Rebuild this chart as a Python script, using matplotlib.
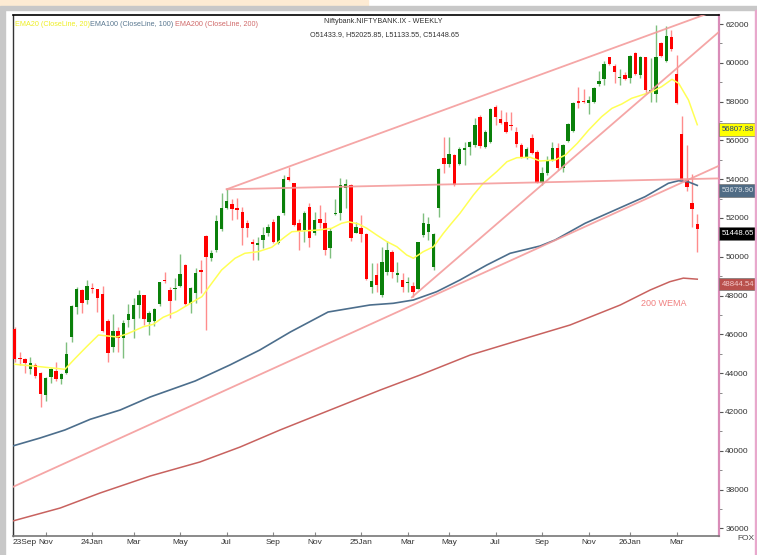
import numpy as np
import pandas as pd
import matplotlib
matplotlib.use("Agg")
import matplotlib.pyplot as plt
from matplotlib.patches import Rectangle
import matplotlib.transforms as mtransforms

plt.rcParams['font.family'] = ['Liberation Sans', 'DejaVu Sans']

# ---------------- data ----------------
start_date = "2023-09-18"
opens = [46277,44798,44731,44226,44421,43993,42875,43820,44115,43719,43993,45865,47427,48272,47772,48406,48318,48066,46689,45334,
         46169,45793,46741,46792,47499,48014,46653,46705,47566,48803,48288,48324,48494,49592,47566,48117,49309,51071,49953,50350,
         51432,52531,52721,52495,52324,51726,50777,50607,50865,51241,51778,50696,52241,54097,53788,51726,51380,52551,51241,51963,
         51757,50437,52205,52241,53530,53700,51241,51468,51174,48427,49061,48030,49231,50262,49061,48803,48633,48494,48355,51122,
         51293,49489,52495,55107,54783,55247,54783,55505,55675,55762,57221,55675,55932,57737,57103,56963,56793,56448,55762,55159,
         56108,55418,53819,54303,54989,55623,54562,55984,56500,58046,58030,57912,57994,58907,59149,60283,59835,59201,59371,59201,
         60520,59371,60283,58510,58391,61005,60108,61314,59407,56330,53958,52788,51700]
highs = [46396,45107,44783,44849,44509,44079,43820,44251,44591,43993,45622,47514,48458,48324,48803,48634,48339,48494,46777,47050,
         46396,46741,47566,47860,48288,48030,47205,47344,48716,49231,48427,48891,50144,49643,48427,49406,49834,51122,50350,52154,
         53304,53530,52963,53015,52582,51896,50900,51004,51550,51674,51932,52154,54216,54644,53819,51932,52375,52788,52324,52669,
         52324,51468,52963,54045,53994,53752,51808,52154,51210,49685,49685,50520,50829,50350,49747,49149,48974,48716,50777,52272,
         52066,51241,54562,56190,56190,55283,55675,55932,55984,57139,57309,56536,57654,57824,57567,57479,57479,56706,55881,55675,
         56314,55505,54644,55195,55932,55850,55814,56881,57994,58737,58649,58288,58768,59593,60108,60314,59938,59665,59541,60402,
         60572,60350,60314,60263,61948,61087,61897,61691,60402,57257,55747,54267,52205]
lows = [44576,44421,44009,43958,43735,42272,42581,43478,43600,43426,43942,45622,47035,47086,47566,48117,47169,46137,44591,45107,
        45107,44798,46396,45834,46865,46483,45958,46447,47463,48634,46829,47772,48427,47514,47117,47602,48117,46226,49782,50264,
        51345,52443,51896,51932,50607,51036,49834,49834,50437,51071,50696,50645,52154,53922,51602,50350,50777,50520,51122,51468,
        50092,49953,52154,51896,52499,50829,51210,50777,48803,48117,48200,47945,49061,48891,48716,48200,48200,47911,48318,51036,
        50865,49318,52035,54334,54644,53648,54731,54731,55247,55675,55592,55592,55881,56793,56845,56365,56536,55675,55077,55025,
        55283,53788,53700,54216,54953,54474,54386,55932,56448,57654,57912,57345,57912,58804,58856,59886,58974,58856,59113,58943,
        59371,59201,58391,57994,57994,60314,60025,60623,57876,53922,53406,51519,50262]
closes = [44731,44746,44509,44509,43865,42911,43768,44200,43703,43958,44988,47463,48339,47633,48494,48355,47891,46189,45024,46169,
          45793,46571,47035,47514,48014,46777,47086,47308,48684,48751,47720,48406,49097,47566,48406,49149,49206,50004,50179,51860,
          52495,52876,52448,52411,51468,51499,50658,50726,51122,51519,50747,52118,53994,53958,51638,51345,52272,50953,51896,51757,
          50350,51329,52272,53700,53752,50953,51519,51174,48839,48752,48546,49716,50350,49231,49180,48458,48685,48200,50777,51757,
          51690,51174,54510,54783,55298,53700,55541,55592,55932,56793,55711,56433,57603,57190,56881,56417,56742,55814,55159,55556,
          55335,53819,54303,54989,55623,54562,55762,56829,57912,57912,57964,58082,58716,59062,59938,59938,59510,59252,59165,60350,
          59422,60283,58598,58598,60283,60350,61381,60696,57912,53958,53582,52448,51449]

# indicator lines, read at sample weeks (week index, value)
ema20_idx = [0,4.9,9.7,11.7,13.9,16.2,19.8,21.7,24.9,26.8,28.7,31.3,32.9,34.9,36.2,38.1,40.0,42.6,44.5,47.1,49.7,52.3,53.6,
             58.7,61.3,63.2,64.5,66.5,68.1,70.0,72.0,73.9,75.8,77.1,79.0,81.0,82.9,84.2,86.1,88.7,90.6,93.2,95.2,97.1,99.7,
             101.6,104.5,106.5,108.8,111.0,113.5,115.5,117.4,119.3,121.3,123.2,125.1,127.1,128.4,130.3,132]
ema20_val = [44458,44334,44200,44767,45365,45968,45865,46020,46396,46520,46881,47169,47427,47750,47943,48634,49318,49922,50180,
             50264,50490,51036,51293,51380,51468,51726,51808,51690,51468,51122,50777,50520,50092,49922,50262,50520,51210,51638,
             52241,53184,53788,54386,54902,55108,55128,54938,54989,55247,55850,56536,57221,57654,57876,58170,58340,58510,58768,
             59149,58943,58082,56808]
ema100_idx = [-0.4,4.9,9.7,14.6,20.4,26.2,34.9,41.6,47.4,53.3,60.6,68.7,73.2,77.1,81.6,86.1,91.3,95.8,101.6,104.5,110.3,116.1,
              121.9,126.4,128.4,130.3,132]
ema100_val = [40246,40658,41071,41622,42102,42772,43597,44421,45195,46122,47153,47514,47602,47772,48200,48803,49576,50179,50556,
              50865,51726,52411,53097,53788,53922,53860,53680]
ema200_idx = [-0.4,8.8,16.5,26.2,35.8,43.6,51.3,61.0,70.7,78.4,88.1,97.7,107.4,117.1,122.9,126.7,129.3,132]
ema200_val = [36379,37049,37822,38699,39420,40194,41070,42102,43132,43905,44936,45710,46483,47514,48288,48716,48900,48845]

# trend lines: two anchor points each (week index, value)
trend_lines = [
    ((41.0, 53480), (130.6, 62206)),   # upper channel
    ((41.0, 53480), (136.2, 54040)),   # horizontal resistance
    ((-0.4, 38132), (136.2, 54693)),   # long rising support
    ((76.8, 47911), (135.5, 61433)),   # steep rising support
]

last_labels = [("56807.88", 56807.88, "#FFFF00", "#1F3F7F"),
               ("53679.90", 53679.90, "#4F6B84", "#D8E0E8"),
               ("51448.65", 51448.65, "#000000", "#FFFFFF"),
               ("48844.54", 48844.54, "#B9504C", "#F3C8C8")]

yticks = list(range(36000, 62001, 2000))

# ---------------- figure ----------------
W, H = 757, 555
fig = plt.figure(figsize=(W / 100, H / 100), dpi=100)
fig.patch.set_facecolor("white")

# outer frame decorations
fig.patches.append(Rectangle((0, 1 - 6 / H), 368 / W, 6 / H, transform=fig.transFigure, color="#FDEBD3", zorder=0))
fig.patches.append(Rectangle((0, 1 - 10 / H), 1, 4 / H, transform=fig.transFigure, color="#C8C8C8", zorder=0))
fig.patches.append(Rectangle((0, 0), 5 / W, 1 - 10 / H, transform=fig.transFigure, color="#C8C8C8", zorder=0))
fig.patches.append(Rectangle((755 / W, 0), 2 / W, 1 - 10 / H, transform=fig.transFigure, color="#E8A8CC", zorder=0))

ax_l, ax_r, ax_t, ax_b = 12.5, 719, 15, 536
ax = fig.add_axes([ax_l / W, 1 - ax_b / H, (ax_r - ax_l) / W, (ax_b - ax_t) / H])
ax.set_facecolor("white")

x = np.arange(len(opens))
o = np.array(opens, float); h = np.array(highs, float); l = np.array(lows, float); c = np.array(closes, float)
up = c >= o
body_bot = np.minimum(o, c)
body_h = np.maximum(np.abs(c - o), 60)

ax.vlines(x[up], l[up], h[up], color="#7FBF7F", lw=1.0, zorder=3)
ax.vlines(x[~up], l[~up], h[~up], color="#FF8C8C", lw=1.0, zorder=3)
ax.bar(x[up], body_h[up], bottom=body_bot[up], width=0.66, color="#0A800A", zorder=4, linewidth=0)
ax.bar(x[~up], body_h[~up], bottom=body_bot[~up], width=0.66, color="#FF0000", zorder=4, linewidth=0)

ax.plot(ema20_idx, ema20_val, color="#FFFF55", lw=1.1, zorder=5)
ax.plot(ema100_idx, ema100_val, color="#4C6E8C", lw=1.2, zorder=5)
ax.plot(ema200_idx, ema200_val, color="#C8625F", lw=1.1, zorder=5)

for (x0, y0), (x1, y1) in trend_lines:
    s = (y1 - y0) / (x1 - x0)
    xe = 140
    ax.plot([x0, xe], [y0, y0 + s * (xe - x0)], color="#F49C9C", lw=1.3, alpha=0.9, zorder=6)

ax.set_xlim(-0.43, 136.2)
ax.set_ylim(35606, 62464)

# right price axis
ax.yaxis.tick_right()
ax.set_yticks(yticks)
ax.set_yticklabels([str(v) for v in yticks])
ax.set_yticks(list(range(36000, 62001, 1000)), minor=True)
ax.tick_params(axis="y", which="major", direction="out", length=3, width=0.8, color="#555555",
               labelsize=6, labelcolor="#333333", pad=1.5)
ax.tick_params(axis="y", which="minor", direction="out", length=2, width=0.6, color="#777777")

# month ticks: bar containing the first weekday of each odd month
dates = pd.date_range(start_date, periods=len(opens), freq="7D")
tick_pos, tick_lab = [-0.43], ["23Sep"]
for i, d in enumerate(dates):
    for k in range(5):
        dd = d + pd.Timedelta(days=k)
        fw = dd.replace(day=1)
        while fw.weekday() > 4:
            fw += pd.Timedelta(days=1)
        if dd == fw and dd.month % 2 == 1:
            lab = dd.strftime("%b")
            if dd.month == 1:
                lab = dd.strftime("%y") + lab
            tick_pos.append(i); tick_lab.append(lab)
ax.set_xticks(tick_pos)
ax.set_xticklabels(tick_lab)
ax.tick_params(axis="x", direction="in", length=3, width=0.8, color="#888888", labelsize=6,
               labelcolor="#333333", pad=2.5)
ax.get_xticklabels()[0].set_ha("left")

for side, col, lw in [("top", "#000000", 1.2), ("left", "#333333", 1.0),
                      ("bottom", "#777777", 1.2), ("right", "#D98CB8", 1.6)]:
    ax.spines[side].set_color(col)
    ax.spines[side].set_linewidth(lw)

# last-value labels on the price axis
trans = mtransforms.blended_transform_factory(ax.transAxes, ax.transData)
for txt, val, bg, fg in last_labels:
    ax.text(1.004, val - 250, txt, transform=trans, fontsize=5.6, color=fg, ha="left", va="center",
            zorder=10, clip_on=False,
            bbox=dict(boxstyle="square,pad=0.38", facecolor=bg, edgecolor="#777777", linewidth=0.5))

ax.text(125.5, 47600, "200 WEMA", fontsize=6.5, color="#F08080", ha="center", va="center", zorder=7)

# legend / title texts
fig.text(15 / W, 1 - 25 / H, "EMA20 (CloseLine, 20)", fontsize=5.2, color="#EEEE22", ha="left", va="center")
fig.text(90.5 / W, 1 - 25 / H, "EMA100 (CloseLine, 100)", fontsize=5.2, color="#5A7890", ha="left", va="center")
fig.text(175 / W, 1 - 25 / H, "EMA200 (CloseLine, 200)", fontsize=5.2, color="#D06A6A", ha="left", va="center")
fig.text(383 / W, 1 - 21.5 / H, "Niftybank.NIFTYBANK.IX - WEEKLY", fontsize=5.2, color="#333333", ha="center", va="center")
fig.text(384 / W, 1 - 34.5 / H, "O51433.9, H52025.85, L51133.55, C51448.65", fontsize=5.2, color="#333333",
         ha="center", va="center")
fig.text(746 / W, 1 - 539 / H, "FOX", fontsize=6, color="#444444", ha="center", va="center")

fig.savefig("out.png", dpi=100, facecolor=fig.get_facecolor())
